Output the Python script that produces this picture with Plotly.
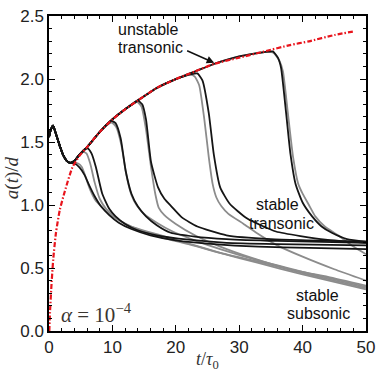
import plotly.graph_objects as go

# shared early transient (all runs start the same way)
t_start = [0, 0.3, 0.65, 1.0, 1.7, 2.2, 2.8, 3.3]
a_start = [1.54, 1.60, 1.63, 1.58, 1.47, 1.40, 1.35, 1.335]

# red dash-dot envelope
t_env = [0.05, 0.15, 0.42, 0.67, 1.1, 1.7, 2.5, 3.7, 4.8, 6, 8, 10, 12, 14, 17,
         20, 23, 26, 30, 34, 38, 41, 45, 48.2]
a_env = [0, 0.14, 0.39, 0.57, 0.78, 0.96, 1.11, 1.30, 1.39, 1.46, 1.58, 1.68,
         1.76, 1.83, 1.93, 2.00, 2.06, 2.12, 2.17, 2.22, 2.27, 2.30, 2.35, 2.38]

# black runs (stable transonic)
t_b1 = [4.0, 4.8, 5.6, 6.4, 7.2, 8.2, 9.5, 11, 13, 16, 20, 26, 33, 41, 50]
a_b1 = [1.33, 1.30, 1.24, 1.15, 1.07, 0.99, 0.92, 0.86, 0.81, 0.76, 0.72, 0.69,
        0.67, 0.66, 0.65]
t_b2 = [4.0, 4.8, 5.5, 6.1, 6.7, 7.4, 8.4, 9.5, 10.5, 12, 14, 17, 22, 28, 36, 50]
a_b2 = [1.35, 1.40, 1.44, 1.45, 1.41, 1.30, 1.09, 0.97, 0.91, 0.85, 0.80, 0.76,
        0.725, 0.70, 0.69, 0.68]
t_b3 = [4.0, 4.8, 6, 7, 8, 9, 9.8, 10.5, 11.3, 12.1, 13.0, 14, 15.3, 17, 19.2,
        23, 28, 36, 50]
a_b3 = [1.35, 1.40, 1.46, 1.52, 1.58, 1.635, 1.67, 1.65, 1.53, 1.27, 1.09, 0.99,
        0.91, 0.84, 0.78, 0.75, 0.73, 0.715, 0.70]
t_b4 = [4.0, 4.8, 6, 8, 10, 12, 13.2, 14.0, 14.7, 15.3, 16.1, 17.2, 18.2, 19.3,
        21, 23.4, 28, 35, 50]
a_b4 = [1.35, 1.40, 1.46, 1.58, 1.68, 1.76, 1.805, 1.83, 1.80, 1.68, 1.34, 1.14,
        1.05, 0.99, 0.90, 0.83, 0.76, 0.73, 0.71]
t_b5 = [4.0, 4.8, 6, 8, 10, 12, 14, 17, 20, 22.5, 23.4, 24.2, 25.2, 26, 27, 28.5,
        31.2, 35.8, 43.6, 50]
a_b5 = [1.35, 1.40, 1.46, 1.58, 1.68, 1.76, 1.83, 1.93, 2.00, 2.04, 2.045, 1.99,
        1.73, 1.40, 1.14, 1.01, 0.895, 0.79, 0.725, 0.70]
t_b6 = [4.0, 4.8, 6, 8, 10, 12, 14, 17, 20, 23, 26, 30, 34, 35.3, 36.1, 36.6,
        37.4, 38.1, 38.9, 40, 41.5, 43, 44.6, 47, 50]
a_b6 = [1.35, 1.40, 1.46, 1.58, 1.68, 1.76, 1.83, 1.93, 2.00, 2.06, 2.12, 2.18,
        2.215, 2.22, 2.17, 2.09, 1.73, 1.40, 1.165, 1.02, 0.91, 0.83, 0.78, 0.73,
        0.71]

# gray runs (stable subsonic)
t_g1 = [4.0, 4.6, 5.2, 5.8, 6.5, 7.3, 8.2, 9.5, 11, 13, 15.5, 19, 23, 27, 33, 40,
        50]
a_g1 = [1.335, 1.33, 1.30, 1.22, 1.12, 1.04, 0.99, 0.93, 0.88, 0.83, 0.79, 0.74,
        0.68, 0.62, 0.54, 0.45, 0.33]
t_g2 = [4.0, 4.8, 5.4, 5.9, 6.5, 7.2, 8.0, 9.0, 10.5, 12.5, 15, 18, 22, 27, 33,
        40, 50]
a_g2 = [1.35, 1.40, 1.42, 1.41, 1.33, 1.18, 1.05, 0.97, 0.90, 0.84, 0.79, 0.74,
        0.69, 0.62, 0.55, 0.46, 0.34]
t_g3 = [4.0, 4.8, 6, 7, 8, 9, 9.9, 10.6, 11.4, 12.2, 13.0, 13.8, 15, 17, 19.5,
        23, 27, 33, 40, 50]
a_g3 = [1.35, 1.40, 1.46, 1.52, 1.58, 1.63, 1.655, 1.62, 1.48, 1.24, 1.08, 1.00,
        0.93, 0.86, 0.79, 0.72, 0.65, 0.56, 0.47, 0.35]
t_g4 = [4.0, 4.8, 6, 8, 10, 12, 13.2, 13.9, 14.6, 15.3, 16.1, 16.8, 17.3, 18.2,
        20, 23, 27, 32, 38, 44, 50]
a_g4 = [1.35, 1.40, 1.46, 1.58, 1.68, 1.76, 1.80, 1.82, 1.78, 1.60, 1.30, 1.08,
        0.98, 0.92, 0.85, 0.76, 0.67, 0.58, 0.49, 0.43, 0.36]
t_g5 = [4.0, 4.8, 6, 8, 10, 12, 14, 17, 20, 22.3, 23.0, 23.7, 24.5, 25.2, 25.8,
        26.4, 27.2, 28.3, 30.7, 32.7, 36, 40, 45, 50]
a_g5 = [1.35, 1.40, 1.46, 1.58, 1.68, 1.76, 1.83, 1.93, 2.00, 2.035, 2.02, 1.95,
        1.68, 1.38, 1.17, 1.06, 0.99, 0.93, 0.85, 0.78, 0.68, 0.59, 0.49, 0.40]
t_g6 = [4.0, 4.8, 6, 8, 10, 12, 14, 17, 20, 23, 26, 30, 34, 35.4, 36.3, 36.9,
        37.7, 38.5, 39.3, 40, 41, 42, 43.5, 45.6, 48, 50]
a_g6 = [1.35, 1.40, 1.46, 1.58, 1.68, 1.76, 1.83, 1.93, 2.00, 2.06, 2.12, 2.18,
        2.215, 2.21, 2.15, 2.06, 1.72, 1.38, 1.17, 1.09, 1.00, 0.91, 0.83, 0.76,
        0.67, 0.61]

gray_runs = [(t_g1, a_g1), (t_g2, a_g2), (t_g3, a_g3), (t_g4, a_g4),
             (t_g5, a_g5), (t_g6, a_g6)]
black_runs = [(t_b1, a_b1), (t_b2, a_b2), (t_b3, a_b3), (t_b4, a_b4),
              (t_b5, a_b5), (t_b6, a_b6)]

x_ticks = [0, 10, 20, 30, 40, 50]
y_ticks = [0.0, 0.5, 1.0, 1.5, 2.0, 2.5]

fig = go.Figure()

for t, a in gray_runs:
    fig.add_scatter(
        x=t_start + t,
        y=a_start + a,
        mode="lines",
        line=dict(color="#8c8c8c", width=1.8, shape="spline", smoothing=0.5),
        hoverinfo="skip",
    )

for t, a in black_runs:
    fig.add_scatter(
        x=t_start + t,
        y=a_start + a,
        mode="lines",
        line=dict(color="#151515", width=1.8, shape="spline", smoothing=0.5),
        hoverinfo="skip",
    )

fig.add_scatter(
    x=t_env,
    y=a_env,
    mode="lines",
    line=dict(color="#e8141c", width=2.2, dash="5px,2px,1.5px,2px",
              shape="spline", smoothing=0.6),
    hoverinfo="skip",
)

text_font = dict(family="Liberation Sans, Arial, sans-serif", size=16,
                 color="#111111")
for txt, x, y in [
    ("unstable", 15.7, 2.392),
    ("transonic", 16.0, 2.253),
    ("stable", 36.1, 1.003),
    ("transonic", 36.6, 0.857),
    ("stable", 42.3, 0.278),
    ("subsonic", 42.5, 0.139),
]:
    fig.add_annotation(x=x, y=y, text=txt, showarrow=False, font=text_font,
                       xanchor="center", yanchor="middle")

# arrow pointing at the envelope
fig.add_annotation(
    x=26.05, y=2.13, ax=21.55, ay=2.23, xref="x", yref="y", axref="x",
    ayref="y", text="", showarrow=True, arrowhead=2, arrowsize=1,
    arrowwidth=1.5, arrowcolor="#111111",
)

fig.add_annotation(
    x=1.6, y=0.14, text="<i>α</i> = 10<sup>−4</sup>", showarrow=False,
    xanchor="left", yanchor="middle",
    font=dict(family="Liberation Serif, serif", size=21, color="#3a3530"),
)

# axis titles
fig.add_annotation(
    x=-0.117, y=0.488, xref="paper", yref="paper",
    xanchor="center", yanchor="middle",
    text="<i>a</i>(<i>t</i>)/<i>d</i>", showarrow=False, textangle=-90,
    font=dict(family="Liberation Serif, serif", size=19, color="#333333"),
)
fig.add_annotation(
    x=0.5, y=-0.093, xref="paper", yref="paper",
    xanchor="center", yanchor="middle",
    text="<i>t</i>/<i>τ</i><sub>0</sub>", showarrow=False,
    font=dict(family="Liberation Serif, serif", size=18, color="#333333"),
)

axis_style = dict(
    showline=True,
    linecolor="black",
    linewidth=1.5,
    mirror="ticks",
    ticks="inside",
    ticklen=6,
    tickwidth=1.2,
    tickcolor="black",
    showgrid=False,
    zeroline=False,
    tickfont=dict(family="Liberation Sans, Arial, sans-serif", size=17,
                  color="#222222"),
)

fig.update_xaxes(
    range=[0, 50],
    tickvals=x_ticks,
    minor=dict(dtick=2, ticks="inside", ticklen=3, tickcolor="black",
               showgrid=False),
    **axis_style,
)
fig.update_yaxes(
    range=[0, 2.501],
    tickvals=y_ticks,
    tickformat=".1f",
    minor=dict(dtick=0.1, ticks="inside", ticklen=3, tickcolor="black",
               showgrid=False),
    **axis_style,
)

fig.update_layout(
    width=382,
    height=372,
    margin=dict(l=49, r=11, t=7, b=41),
    showlegend=False,
    plot_bgcolor="white",
    paper_bgcolor="white",
)

fig.write_html(
    "out.html",
    config={"displayModeBar": False},
    post_script="document.body.style.margin='0';",
)
